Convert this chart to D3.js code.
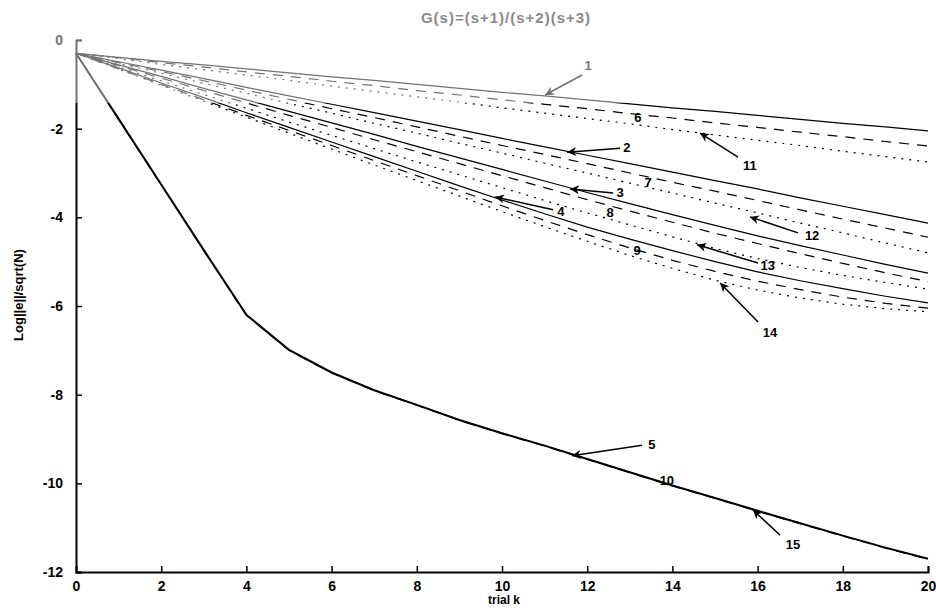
<!DOCTYPE html>
<html>
<head>
<meta charset="utf-8">
<script src="https://cdn.jsdelivr.net/npm/d3@7"></script>
<style>
  body { margin: 0; background: #fff; }
  text { font-family: "Liberation Sans", Arial, sans-serif; }
</style>
</head>
<body>
<div id="chart"></div>
<script>
var trials = d3.range(0, 21);

// solid lines
var s1 = [-0.30,-0.39,-0.48,-0.56,-0.65,-0.74,-0.83,-0.91,-1.00,-1.09,-1.18,-1.26,-1.35,-1.44,-1.53,-1.61,-1.70,-1.79,-1.88,-1.96,-2.05];
var s2 = [-0.30,-0.49,-0.68,-0.87,-1.07,-1.26,-1.45,-1.64,-1.83,-2.02,-2.22,-2.41,-2.60,-2.79,-2.98,-3.17,-3.36,-3.56,-3.75,-3.94,-4.13];
var s3 = [-0.30,-0.56,-0.82,-1.09,-1.35,-1.61,-1.87,-2.13,-2.40,-2.66,-2.92,-3.18,-3.44,-3.69,-3.94,-4.18,-4.42,-4.64,-4.85,-5.06,-5.26];
var s4 = [-0.30,-0.63,-0.97,-1.30,-1.64,-1.97,-2.30,-2.63,-2.96,-3.29,-3.61,-3.92,-4.22,-4.49,-4.75,-5.00,-5.23,-5.43,-5.61,-5.78,-5.93];
var s5 = [-0.30,-1.78,-3.26,-4.74,-6.20,-6.99,-7.50,-7.90,-8.23,-8.57,-8.87,-9.15,-9.45,-9.75,-10.05,-10.33,-10.62,-10.90,-11.18,-11.45,-11.70];
// dashed lines
var s6 = [-0.30,-0.40,-0.51,-0.61,-0.72,-0.82,-0.93,-1.03,-1.14,-1.24,-1.35,-1.45,-1.55,-1.66,-1.76,-1.87,-1.97,-2.08,-2.18,-2.29,-2.39];
var s7 = [-0.30,-0.51,-0.71,-0.92,-1.13,-1.34,-1.55,-1.75,-1.96,-2.17,-2.38,-2.58,-2.79,-3.00,-3.21,-3.41,-3.62,-3.83,-4.04,-4.24,-4.45];
var s8 = [-0.30,-0.58,-0.86,-1.14,-1.42,-1.70,-1.97,-2.25,-2.52,-2.79,-3.06,-3.33,-3.60,-3.86,-4.11,-4.36,-4.59,-4.82,-5.04,-5.25,-5.45];
var s9 = [-0.30,-0.65,-1.00,-1.35,-1.70,-2.04,-2.38,-2.72,-3.06,-3.40,-3.74,-4.07,-4.39,-4.69,-4.97,-5.22,-5.44,-5.63,-5.80,-5.94,-6.05];
var s10 = [-0.30,-1.79,-3.27,-4.75,-6.21,-7.00,-7.51,-7.91,-8.24,-8.58,-8.88,-9.16,-9.46,-9.76,-10.06,-10.34,-10.63,-10.91,-11.19,-11.46,-11.71];
// dotted lines
var s11 = [-0.30,-0.42,-0.55,-0.67,-0.79,-0.91,-1.04,-1.16,-1.28,-1.40,-1.53,-1.65,-1.77,-1.89,-2.02,-2.14,-2.26,-2.38,-2.51,-2.63,-2.75];
var s12 = [-0.30,-0.53,-0.75,-0.98,-1.20,-1.43,-1.65,-1.88,-2.10,-2.33,-2.55,-2.78,-3.00,-3.23,-3.45,-3.68,-3.90,-4.13,-4.35,-4.58,-4.80];
var s13 = [-0.30,-0.61,-0.92,-1.23,-1.54,-1.85,-2.15,-2.45,-2.75,-3.04,-3.33,-3.62,-3.90,-4.17,-4.44,-4.70,-4.93,-5.13,-5.31,-5.47,-5.62];
var s14 = [-0.30,-0.66,-1.02,-1.38,-1.74,-2.10,-2.46,-2.82,-3.17,-3.52,-3.87,-4.21,-4.54,-4.86,-5.15,-5.42,-5.64,-5.82,-5.96,-6.06,-6.13];
var s15 = [-0.30,-1.79,-3.26,-4.74,-6.20,-6.99,-7.50,-7.90,-8.23,-8.57,-8.87,-9.15,-9.45,-9.75,-10.05,-10.33,-10.62,-10.90,-11.18,-11.45,-11.70];

var xTicks = [0, 2, 4, 6, 8, 10, 12, 14, 16, 18, 20];
var yTicks = [0, -2, -4, -6, -8, -10, -12];

// curve numbers: text spot, and arrow (start -> tip) where there is one
var labelNames = ["1","2","3","4","5","6","7","8","9","10","11","12","13","14","15"];
var labelK = [12.02, 12.93, 12.77, 11.38, 13.52, 13.19, 13.43, 12.54, 13.17, 13.87, 15.82, 17.28, 16.24, 16.29, 16.83];
var labelV = [-0.56, -2.41, -3.43, -3.86, -9.11, -1.74, -3.20, -3.88, -4.74, -9.93, -2.82, -4.40, -5.08, -6.59, -11.37];
var arrowFrom = [[11.88,-0.79],[12.77,-2.44],[12.61,-3.45],[11.20,-3.83],[13.29,-9.14],null,null,null,null,null,[15.54,-2.64],[16.95,-4.35],[16.01,-5.03],[16.01,-6.36],[16.53,-11.17]];
var arrowTo = [[11.01,-1.24],[11.53,-2.53],[11.60,-3.36],[9.84,-3.54],[11.64,-9.38],null,null,null,null,null,[14.65,-2.10],[15.82,-3.99],[14.58,-4.62],[15.12,-5.48],[15.89,-10.60]];

var svgWidth = 936;
var svgHeight = 608;
var margin = { top: 40, right: 8, bottom: 36, left: 76 };

var svg = d3.select("#chart")
  .append("svg")
  .attr("width", svgWidth)
  .attr("height", svgHeight);

svg.append("rect").attr("width", svgWidth).attr("height", svgHeight).attr("fill", "#fff");

var xScale = d3.scaleLinear().domain([0, 20]).range([margin.left, svgWidth - margin.right]);
var yScale = d3.scaleLinear().domain([-12, 0]).range([svgHeight - margin.bottom, margin.top]);

var series = [
  { v: s1, dash: null }, { v: s2, dash: null }, { v: s3, dash: null }, { v: s4, dash: null }, { v: s5, dash: null, w: 2 },
  { v: s6, dash: "10,8" }, { v: s7, dash: "10,8" }, { v: s8, dash: "10,8" }, { v: s9, dash: "10,8" }, { v: s10, dash: "10,8" },
  { v: s11, dash: "2,6" }, { v: s12, dash: "2,6" }, { v: s13, dash: "2,6" }, { v: s14, dash: "2,6" }, { v: s15, dash: "2,6" }
];

var line = d3.line()
  .x((d, i) => xScale(trials[i]))
  .y(d => yScale(d));

svg.append("g").selectAll("path")
  .data(series)
  .enter()
  .append("path")
  .attr("d", d => line(d.v))
  .attr("fill", "none")
  .attr("stroke", "#000")
  .attr("stroke-width", d => d.w || 1.2)
  .attr("stroke-dasharray", d => d.dash);

// axes, ticks pointing inward
var bottomAxis = d3.axisBottom(xScale).tickValues(xTicks).tickSize(-6).tickPadding(9).tickFormat(d => String(d));
var leftAxis = d3.axisLeft(yScale).tickValues(yTicks).tickSize(-6).tickPadding(13).tickFormat(d => String(d));

var gx = svg.append("g")
  .attr("transform", `translate(0, ${yScale(-12)})`)
  .call(bottomAxis);
var gy = svg.append("g")
  .attr("transform", `translate(${xScale(0)}, 0)`)
  .call(leftAxis);

[gx, gy].forEach(function (g) {
  g.select(".domain").attr("stroke", "#000").attr("stroke-width", 2);
  g.selectAll(".tick line").attr("stroke", "#000").attr("stroke-width", 1.5);
  g.selectAll(".tick text")
    .attr("fill", "#000")
    .attr("font-size", 14)
    .attr("font-weight", "bold")
    .attr("font-family", "Liberation Sans, Arial, sans-serif");
});

// arrows and curve numbers
svg.append("defs").append("marker")
  .attr("id", "head")
  .attr("viewBox", "0 0 10 10")
  .attr("refX", 10)
  .attr("refY", 5)
  .attr("markerUnits", "userSpaceOnUse")
  .attr("markerWidth", 13)
  .attr("markerHeight", 9)
  .attr("orient", "auto")
  .append("path")
  .attr("d", "M0,0 L10,5 L0,10 L3,5 z")
  .attr("fill", "#000");

var ann = svg.append("g");
labelNames.forEach(function (name, i) {
  if (arrowFrom[i]) {
    ann.append("line")
      .attr("x1", xScale(arrowFrom[i][0]))
      .attr("y1", yScale(arrowFrom[i][1]))
      .attr("x2", xScale(arrowTo[i][0]))
      .attr("y2", yScale(arrowTo[i][1]))
      .attr("stroke", "#000")
      .attr("stroke-width", 1.5)
      .attr("marker-end", "url(#head)");
  }
  ann.append("text")
    .attr("x", xScale(labelK[i]))
    .attr("y", yScale(labelV[i]))
    .attr("dy", "0.36em")
    .attr("text-anchor", "middle")
    .attr("font-size", 13)
    .attr("font-weight", "bold")
    .attr("fill", "#000")
    .text(name);
});

// axis titles
svg.append("text")
  .attr("x", 504)
  .attr("y", 604)
  .attr("text-anchor", "middle")
  .attr("font-size", 12)
  .attr("font-weight", "bold")
  .text("trial k");

svg.append("text")
  .attr("transform", "translate(23, 295) rotate(-90)")
  .attr("text-anchor", "middle")
  .attr("font-size", 13)
  .attr("font-weight", "bold")
  .text("Log||e||/sqrt(N)");

// faded top band (the scan's watermark)
svg.append("rect")
  .attr("x", 0).attr("y", 0)
  .attr("width", 720).attr("height", 103)
  .attr("fill", "#fff")
  .attr("opacity", 0.45);

svg.append("text")
  .attr("x", 506)
  .attr("y", 23)
  .attr("text-anchor", "middle")
  .attr("font-size", 15)
  .attr("font-weight", "bold")
  .attr("letter-spacing", 1)
  .attr("fill", "#8a8a8a")
  .text("G(s)=(s+1)/(s+2)(s+3)");
</script>
</body>
</html>
